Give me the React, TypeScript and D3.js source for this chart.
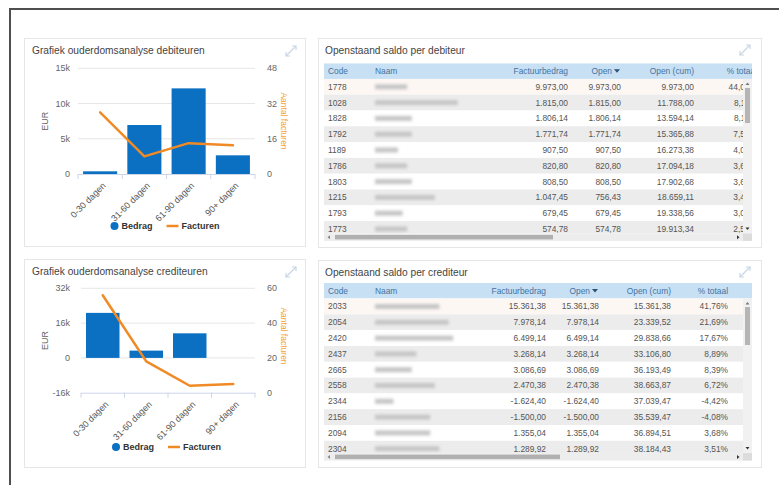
import React from 'react';
import * as d3 from 'd3';

const categories = ['0-30 dagen', '31-60 dagen', '61-90 dagen', '90+ dagen'];
const debBedrag = [380, 6950, 12150, 2650];
const debFacturen = [28, 8, 14, 13];
const credBedrag = [20700, 3350, 11300, 0];
const credFacturen = [56, 18, 4, 5];
const debEurTicks = [0, 5000, 10000, 15000];
const debCountTicks = [0, 16, 32, 48];
const credEurTicks = [-16000, 0, 16000, 32000];
const credCountTicks = [0, 20, 40, 60];
const seriesNames = ['Bedrag', 'Facturen'];
const axisTitles = ['EUR', 'Aantal facturen'];

const tableHeaders = ['Code', 'Naam', 'Factuurbedrag', 'Open', 'Open (cum)', '% totaal'];
const debCodes = ['1778', '1028', '1828', '1792', '1189', '1786', '1803', '1215', '1793', '1773'];
const debNameLen = [7, 18, 8, 8, 5, 7, 8, 13, 6, 7];
const debFactuur = [9973.0, 1815.0, 1806.14, 1771.74, 907.5, 820.8, 808.5, 1047.45, 679.45, 574.78];
const debOpen = [9973.0, 1815.0, 1806.14, 1771.74, 907.5, 820.8, 808.5, 756.43, 679.45, 574.78];
const debCum = [9973.0, 11788.0, 13594.14, 15365.88, 16273.38, 17094.18, 17902.68, 18659.11, 19338.56, 19913.34];
const debPct = [44.0, 8.11, 8.11, 7.56, 4.0, 3.66, 3.63, 3.4, 3.05, 2.58];

const credCodes = ['2033', '2054', '2420', '2437', '2665', '2558', '2344', '2156', '2094', '2304'];
const credNameLen = [14, 16, 17, 9, 8, 13, 4, 12, 12, 14];
const credFactuur = [15361.38, 7978.14, 6499.14, 3268.14, 3086.69, 2470.38, -1624.4, -1500.0, 1355.04, 1289.92];
const credOpen = [15361.38, 7978.14, 6499.14, 3268.14, 3086.69, 2470.38, -1624.4, -1500.0, 1355.04, 1289.92];
const credCum = [15361.38, 23339.52, 29838.66, 33106.8, 36193.49, 38663.87, 37039.47, 35539.47, 36894.51, 38184.43];
const credPct = [41.76, 21.69, 17.67, 8.89, 8.39, 6.72, -4.42, -4.08, 3.68, 3.51];

const FONT = '"Liberation Sans", Arial, Helvetica, sans-serif';
const BLUE = '#0b6fc2';
const ORANGE = '#f08a24';

const nl = d3.formatLocale({ decimal: ',', thousands: '.', grouping: [3], currency: ['€', ''], minus: '-' });
const fmtAmt = nl.format(',.2f');
const fmtPctNum = nl.format('.2f');
const fmtPct = (v: number) => fmtPctNum(v) + '%';
const fmtK = (v: number) => (v === 0 ? '0' : `${v / 1000}k`);

function ExpandIcon({ x, y }: { x: number; y: number }) {
  return (
    <g stroke="#c9d6e4" strokeWidth={1.2} fill="none">
      <line x1={x - 5} y1={y + 5} x2={x + 5} y2={y - 5} />
      <path d={`M${x + 1},${y - 5} L${x + 5},${y - 5} L${x + 5},${y - 1}`} />
      <path d={`M${x - 5},${y + 1} L${x - 5},${y + 5} L${x - 1},${y + 5}`} />
    </g>
  );
}

type ChartProps = {
  title: string;
  bedrag: number[];
  facturen: number[];
  eurTicks: number[];
  countTicks: number[];
  left: number;
  right: number;
  top: number;
  bottom: number;
  panelTop: number;
  panelBottom: number;
  legendY: number;
  rightTitleY: number;
};

function AgeChart(p: ChartProps) {
  const x = d3.scaleBand<string>().domain(categories).range([p.left, p.right]).paddingInner(0.23).paddingOuter(0.115);
  const yL = d3.scaleLinear().domain(d3.extent(p.eurTicks) as [number, number]).range([p.bottom, p.top]);
  const yR = d3.scaleLinear().domain(d3.extent(p.countTicks) as [number, number]).range([p.bottom, p.top]);
  const cx = (i: number) => (x(categories[i]) as number) + x.bandwidth() / 2;
  const line = d3.line<number>().x((_, i) => cx(i)).y((d) => yR(d));
  const n = categories.length;
  const bounds = d3.range(n + 1).map((i) => p.left + (i * (p.right - p.left)) / n);
  const mid = (p.left + p.right) / 2;
  const plotMidY = (p.top + p.bottom) / 2;
  return (
    <g fontFamily={FONT}>
      <rect x={24.5} y={p.panelTop + 0.5} width={281} height={p.panelBottom - p.panelTop} fill="#fff" stroke="#e6e6e6" />
      <text x={32} y={p.panelTop + 16} fontSize={10.2} fill="#444">{p.title}</text>
      <ExpandIcon x={291} y={p.panelTop + 13} />
      {p.eurTicks.slice(1).map((t) => (
        <line key={t} x1={p.left} x2={p.right} y1={yL(t)} y2={yL(t)} stroke="#e6e6e6" />
      ))}
      {p.eurTicks.map((t) => (
        <text key={t} x={70} y={yL(t)} dy="0.35em" textAnchor="end" fontSize={9} fill="#666">{fmtK(t)}</text>
      ))}
      {p.countTicks.map((t) => (
        <text key={t} x={267} y={yR(t)} dy="0.35em" fontSize={9} fill="#666">{t}</text>
      ))}
      <text transform={`translate(48,${plotMidY}) rotate(-90)`} textAnchor="middle" fontSize={9} fill="#666">{axisTitles[0]}</text>
      <text transform={`translate(281,${p.rightTitleY}) rotate(90)`} textAnchor="middle" fontSize={8.5} fill="#f2a23c">{axisTitles[1]}</text>
      {p.bedrag.map((v, i) =>
        v === 0 ? null : (
          <rect key={i} x={x(categories[i])} width={x.bandwidth()} y={yL(Math.max(0, v))} height={Math.abs(yL(v) - yL(0))} fill={BLUE} />
        )
      )}
      <line x1={p.left} x2={p.right} y1={p.bottom + 0.5} y2={p.bottom + 0.5} stroke="#ccd6eb" />
      {bounds.map((b, i) => (
        <line key={i} x1={b} x2={b} y1={p.bottom} y2={p.bottom + 5} stroke="#ccd6eb" />
      ))}
      <path d={line(p.facturen) as string} fill="none" stroke={ORANGE} strokeWidth={2.5} strokeLinejoin="round" strokeLinecap="round" />
      {categories.map((c, i) => (
        <text key={c} transform={`translate(${cx(i) + 4},${p.bottom + 10}) rotate(-45)`} textAnchor="end" dy="0.35em" fontSize={9} fill="#555">{c}</text>
      ))}
      <g fontSize={9} fontWeight="bold" fill="#333">
        <circle cx={mid - 52} cy={p.legendY} r={4} fill={BLUE} />
        <text x={mid - 45} y={p.legendY} dy="0.35em">{seriesNames[0]}</text>
        <line x1={mid} x2={mid + 12} y1={p.legendY} y2={p.legendY} stroke={ORANGE} strokeWidth={2.5} />
        <text x={mid + 15} y={p.legendY} dy="0.35em">{seriesNames[1]}</text>
      </g>
    </g>
  );
}

type TableProps = {
  id: string;
  title: string;
  panelTop: number;
  panelBottom: number;
  headerTop: number;
  codes: string[];
  nameLen: number[];
  factuur: number[];
  open: number[];
  cum: number[];
  pct: number[];
  cols: number[];
  thumbV: [number, number];
  thumbH: [number, number];
};

function SaldoTable(p: TableProps) {
  const L = 324;
  const R = 752;
  const VS = 743;
  const headerH = 15.6;
  const rowH = 15.8;
  const rowsTop = p.headerTop + headerH;
  const hsTop = rowsTop + 154.5;
  const rows = d3.range(p.codes.length);
  const [cF, cO, cC, cP] = p.cols;
  return (
    <g fontFamily={FONT}>
      <defs>
        <clipPath id={`${p.id}-rows`}>
          <rect x={L} y={rowsTop} width={VS - L} height={hsTop - rowsTop} />
        </clipPath>
        <clipPath id={`${p.id}-head`}>
          <rect x={L} y={p.headerTop} width={R - L} height={headerH} />
        </clipPath>
      </defs>
      <rect x={318.5} y={p.panelTop + 0.5} width={443} height={p.panelBottom - p.panelTop} fill="#fff" stroke="#e6e6e6" />
      <text x={325} y={p.panelTop + 15.5} fontSize={10.2} fill="#444">{p.title}</text>
      <ExpandIcon x={745} y={p.panelTop + 12} />
      <g clipPath={`url(#${p.id}-head)`} fontSize={8.4} fill="#44729f">
        <rect x={L} y={p.headerTop} width={R - L} height={headerH} fill="#c7e0f4" />
        <text x={328} y={p.headerTop + headerH / 2} dy="0.35em">{tableHeaders[0]}</text>
        <text x={375} y={p.headerTop + headerH / 2} dy="0.35em">{tableHeaders[1]}</text>
        <text x={cF} y={p.headerTop + headerH / 2} dy="0.35em" textAnchor="end">{tableHeaders[2]}</text>
        <text x={cO - 9} y={p.headerTop + headerH / 2} dy="0.35em" textAnchor="end">{tableHeaders[3]}</text>
        <path d={`M${cO - 7},${p.headerTop + 6} L${cO - 1},${p.headerTop + 6} L${cO - 4},${p.headerTop + 9.5} Z`} fill="#2d4f73" />
        <text x={cC} y={p.headerTop + headerH / 2} dy="0.35em" textAnchor="end">{tableHeaders[4]}</text>
        <text x={cP} y={p.headerTop + headerH / 2} dy="0.35em" textAnchor="end">{tableHeaders[5]}</text>
      </g>
      <g clipPath={`url(#${p.id}-rows)`} fontSize={8.4} fill="#555">
        {rows.map((i) => {
          const y = rowsTop + i * rowH;
          const cy = y + rowH / 2;
          return (
            <g key={i}>
              <rect x={L} y={y} width={VS - L} height={rowH} fill={i % 2 === 1 ? '#ececec' : i === 0 ? '#fdf7f4' : '#fff'} />
              <text x={328} y={cy} dy="0.35em">{p.codes[i]}</text>
              <rect x={375} y={cy - 2.5} width={p.nameLen[i] * 4.6} height={5} fill="#c6c6c6" filter="url(#blurName)" />
              <text x={cF} y={cy} dy="0.35em" textAnchor="end">{fmtAmt(p.factuur[i])}</text>
              <text x={cO} y={cy} dy="0.35em" textAnchor="end">{fmtAmt(p.open[i])}</text>
              <text x={cC} y={cy} dy="0.35em" textAnchor="end">{fmtAmt(p.cum[i])}</text>
              <text x={cP} y={cy} dy="0.35em" textAnchor="end">{fmtPct(p.pct[i])}</text>
            </g>
          );
        })}
      </g>
      <rect x={VS} y={rowsTop} width={R - VS} height={hsTop - rowsTop} fill="#f1f1f1" />
      <rect x={VS + 2} y={p.thumbV[0]} width={R - VS - 4} height={p.thumbV[1] - p.thumbV[0]} fill="#b5b5b5" />
      <path d={`M${VS + 2.5},${rowsTop + 6} L${VS + 6.5},${rowsTop + 6} L${VS + 4.5},${rowsTop + 3.5} Z`} fill="#777" />
      <path d={`M${VS + 2.5},${hsTop - 6} L${VS + 6.5},${hsTop - 6} L${VS + 4.5},${hsTop - 3.5} Z`} fill="#333" />
      <rect x={L} y={hsTop} width={VS - L} height={7.5} fill="#ededed" />
      <rect x={p.thumbH[0]} y={hsTop + 1.5} width={p.thumbH[1] - p.thumbH[0]} height={4.5} fill="#b0b0b0" />
      <path d={`M${L + 6},${hsTop + 1.8} L${L + 6},${hsTop + 5.8} L${L + 3.5},${hsTop + 3.8} Z`} fill="#888" />
      <path d={`M${VS - 6},${hsTop + 1.8} L${VS - 6},${hsTop + 5.8} L${VS - 3.5},${hsTop + 3.8} Z`} fill="#333" />
      <rect x={VS} y={hsTop} width={R - VS} height={7.5} fill="#dcdcdc" />
    </g>
  );
}

export default function App() {
  return (
    <svg width={779} height={485} style={{ position: 'fixed', left: 0, top: 0, display: 'block', background: '#fff' }}>
      <defs>
        <filter id="blurName" x="-20%" y="-100%" width="140%" height="300%">
          <feGaussianBlur stdDeviation="1.6" />
        </filter>
      </defs>
      <rect width={779} height={485} fill="#fff" />
      <path d="M10,485 V9 H779" fill="none" stroke="#4f4f4f" strokeWidth={2} />
      <AgeChart
        title="Grafiek ouderdomsanalyse debiteuren"
        bedrag={debBedrag}
        facturen={debFacturen}
        eurTicks={debEurTicks}
        countTicks={debCountTicks}
        left={78}
        right={255}
        top={68.3}
        bottom={174}
        panelTop={38}
        panelBottom={246}
        legendY={226}
        rightTitleY={121}
      />
      <AgeChart
        title="Grafiek ouderdomsanalyse crediteuren"
        bedrag={credBedrag}
        facturen={credFacturen}
        eurTicks={credEurTicks}
        countTicks={credCountTicks}
        left={81}
        right={255}
        top={288.3}
        bottom={392.7}
        panelTop={259}
        panelBottom={467}
        legendY={447}
        rightTitleY={336}
      />
      <SaldoTable
        id="deb"
        title="Openstaand saldo per debiteur"
        panelTop={38}
        panelBottom={247}
        headerTop={63.3}
        codes={debCodes}
        nameLen={debNameLen}
        factuur={debFactuur}
        open={debOpen}
        cum={debCum}
        pct={debPct}
        cols={[568, 621, 694, 757]}
        thumbV={[88, 123]}
        thumbH={[335, 553]}
      />
      <SaldoTable
        id="cred"
        title="Openstaand saldo per crediteur"
        panelTop={260}
        panelBottom={467}
        headerTop={283}
        codes={credCodes}
        nameLen={credNameLen}
        factuur={credFactuur}
        open={credOpen}
        cum={credCum}
        pct={credPct}
        cols={[546, 599, 671, 728]}
        thumbV={[307, 345]}
        thumbH={[335, 560]}
      />
    </svg>
  );
}
